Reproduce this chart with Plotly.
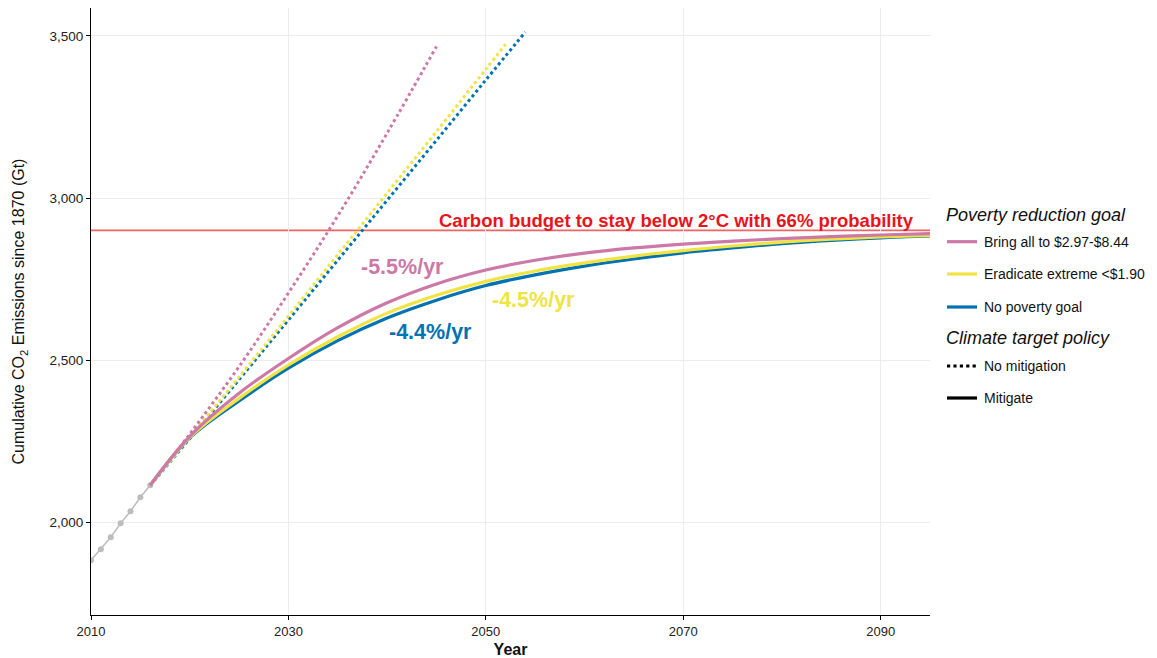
import plotly.graph_objects as go

# ---------------- data ----------------
years_hist = [2010, 2011, 2012, 2013, 2014, 2015, 2016]
hist_emissions = [1883, 1917, 1954, 1997, 2034, 2077, 2114]

years_mit = [2016, 2020, 2025, 2030, 2035, 2040, 2045, 2050, 2055, 2060, 2065, 2070, 2075, 2080, 2085, 2090, 2095]
pink_mit = [2114, 2265, 2398, 2505, 2600, 2677, 2735, 2778, 2808, 2830, 2846, 2858, 2867, 2875, 2881, 2886, 2890]
yellow_mit = [2114, 2262, 2382, 2485, 2572, 2645, 2700, 2743, 2775, 2800, 2821, 2838, 2852, 2864, 2873, 2880, 2885]
blue_mit = [2114, 2260, 2374, 2475, 2560, 2630, 2685, 2730, 2763, 2790, 2812, 2831, 2846, 2859, 2869, 2877, 2883]

years_pink_nomit = [2016, 2020, 2025, 2030, 2035, 2040, 2045]
pink_nomit = [2114, 2272, 2480, 2707, 2945, 3200, 3467]
years_yellow_nomit = [2016, 2020, 2025, 2030, 2035, 2040, 2045, 2050, 2052]
yellow_nomit = [2114, 2262, 2448, 2636, 2825, 3015, 3205, 3397, 3474]
years_blue_nomit = [2016, 2020, 2025, 2030, 2035, 2040, 2045, 2050, 2054]
blue_nomit = [2114, 2258, 2440, 2624, 2808, 2993, 3178, 3364, 3512]

carbon_budget = 2900

goal_names = ["Bring all to $2.97-$8.44", "Eradicate extreme <$1.90", "No poverty goal"]
goal_colors = ["#cc79a7", "#f0e442", "#0072b2"]
policy_names = ["No mitigation", "Mitigate"]
rate_labels = ["-5.5%/yr", "-4.5%/yr", "-4.4%/yr"]
rate_x = [2041.6, 2054.8, 2044.4]
rate_y = [2788, 2686, 2588]

x_ticks = [2010, 2030, 2050, 2070, 2090]
y_ticks = [2000, 2500, 3000, 3500]

FONT = "Liberation Sans, Arial, Helvetica, sans-serif"

# page body has an 8px margin: plot area should span x 91..930, y 8..615 on screen
OFF = 8

fig = go.Figure()

# historical
fig.add_trace(go.Scatter(
    x=years_hist, y=hist_emissions, mode="lines+markers",
    line=dict(color="#bdbdbd", width=1.5),
    marker=dict(color="#bdbdbd", size=6),
    showlegend=False, hoverinfo="skip"))

# no mitigation (dotted)
for xs, ys, col in [(years_blue_nomit, blue_nomit, goal_colors[2]),
                    (years_yellow_nomit, yellow_nomit, goal_colors[1]),
                    (years_pink_nomit, pink_nomit, goal_colors[0])]:
    fig.add_trace(go.Scatter(x=xs, y=ys, mode="lines",
                             line=dict(color=col, width=3, dash="dot", shape="spline"),
                             showlegend=False))

# mitigation (solid)
for ys, col, nm in [(blue_mit, goal_colors[2], goal_names[2]),
                    (yellow_mit, goal_colors[1], goal_names[1]),
                    (pink_mit, goal_colors[0], goal_names[0])]:
    fig.add_trace(go.Scatter(x=years_mit, y=ys, mode="lines", name=nm,
                             line=dict(color=col, width=3.2, shape="spline"),
                             showlegend=False))

# carbon budget line
fig.add_hline(y=carbon_budget, line=dict(color="#f06464", width=1.8), layer="below")
fig.add_annotation(x=2093.6, y=2930, xref="x", yref="y", xanchor="right", yanchor="middle",
                   text="<b>Carbon budget to stay below 2°C with 66% probability</b>",
                   showarrow=False, font=dict(family=FONT, size=18.5, color="#e8141c"))

for lab, xx, yy, col in zip(rate_labels, rate_x, rate_y, goal_colors):
    fig.add_annotation(x=xx, y=yy, text="<b>%s</b>" % lab, showarrow=False,
                       font=dict(family=FONT, size=21.5, color=col),
                       xanchor="center", yanchor="middle")

# ---------- manual legend ----------
def px_x(p):
    return (p - 91) / 839.0

def px_y(p):
    return (615 - p) / 607.0

legend_rows = [241.7, 274, 307]
fig.add_annotation(xref="paper", yref="paper", x=px_x(944), y=px_y(215), xanchor="left",
                   yanchor="middle", showarrow=False,
                   text="<i>Poverty reduction goal</i>",
                   font=dict(family=FONT, size=18, color="#111"))
for nm, col, yy in zip(goal_names, goal_colors, legend_rows):
    fig.add_shape(type="line", xref="paper", yref="paper",
                  x0=px_x(947), x1=px_x(977), y0=px_y(yy), y1=px_y(yy),
                  line=dict(color=col, width=3.2))
    fig.add_annotation(xref="paper", yref="paper", x=px_x(982), y=px_y(yy), xanchor="left",
                       yanchor="middle", showarrow=False, text=nm,
                       font=dict(family=FONT, size=14, color="#111"))

fig.add_annotation(xref="paper", yref="paper", x=px_x(944), y=px_y(338), xanchor="left",
                   yanchor="middle", showarrow=False,
                   text="<i>Climate target policy</i>",
                   font=dict(family=FONT, size=18, color="#111"))
for nm, dash, yy in zip(policy_names, ["dot", "solid"], [366, 398]):
    fig.add_shape(type="line", xref="paper", yref="paper",
                  x0=px_x(947), x1=px_x(977), y0=px_y(yy), y1=px_y(yy),
                  line=dict(color="#000", width=3.2, dash=dash))
    fig.add_annotation(xref="paper", yref="paper", x=px_x(982), y=px_y(yy), xanchor="left",
                       yanchor="middle", showarrow=False, text=nm,
                       font=dict(family=FONT, size=14, color="#111"))

W, H = 1157, 658
fig.update_layout(
    width=W, height=H,
    margin=dict(l=91 - OFF, r=W - 930 + OFF, t=8 - OFF, b=H - 615 + OFF),
    paper_bgcolor="white", plot_bgcolor="white",
    font=dict(family=FONT, color="#333"),
    showlegend=False,
)
fig.update_xaxes(
    range=[2010, 2095], tickvals=x_ticks, showgrid=True, gridcolor="#ececec", gridwidth=1,
    zeroline=False, showline=True, linecolor="#000", linewidth=1,
    ticks="outside", ticklen=4, tickcolor="#000",
    tickfont=dict(size=13, color="#222"),
    title=dict(text="<b>Year</b>", font=dict(size=16, color="#111"), standoff=6),
)
fig.update_yaxes(
    range=[1714, 3586], tickvals=y_ticks, tickformat=",", showgrid=True, gridcolor="#ececec",
    gridwidth=1, zeroline=False, showline=True, linecolor="#000", linewidth=1,
    ticks="outside", ticklen=4, tickcolor="#000",
    tickfont=dict(size=13.5, color="#222"),
    title=dict(text="Cumulative CO<sub>2</sub> Emissions since 1870 (Gt)",
               font=dict(size=16, color="#111"), standoff=20),
    automargin=False,
)

fig.write_html("out.html")
